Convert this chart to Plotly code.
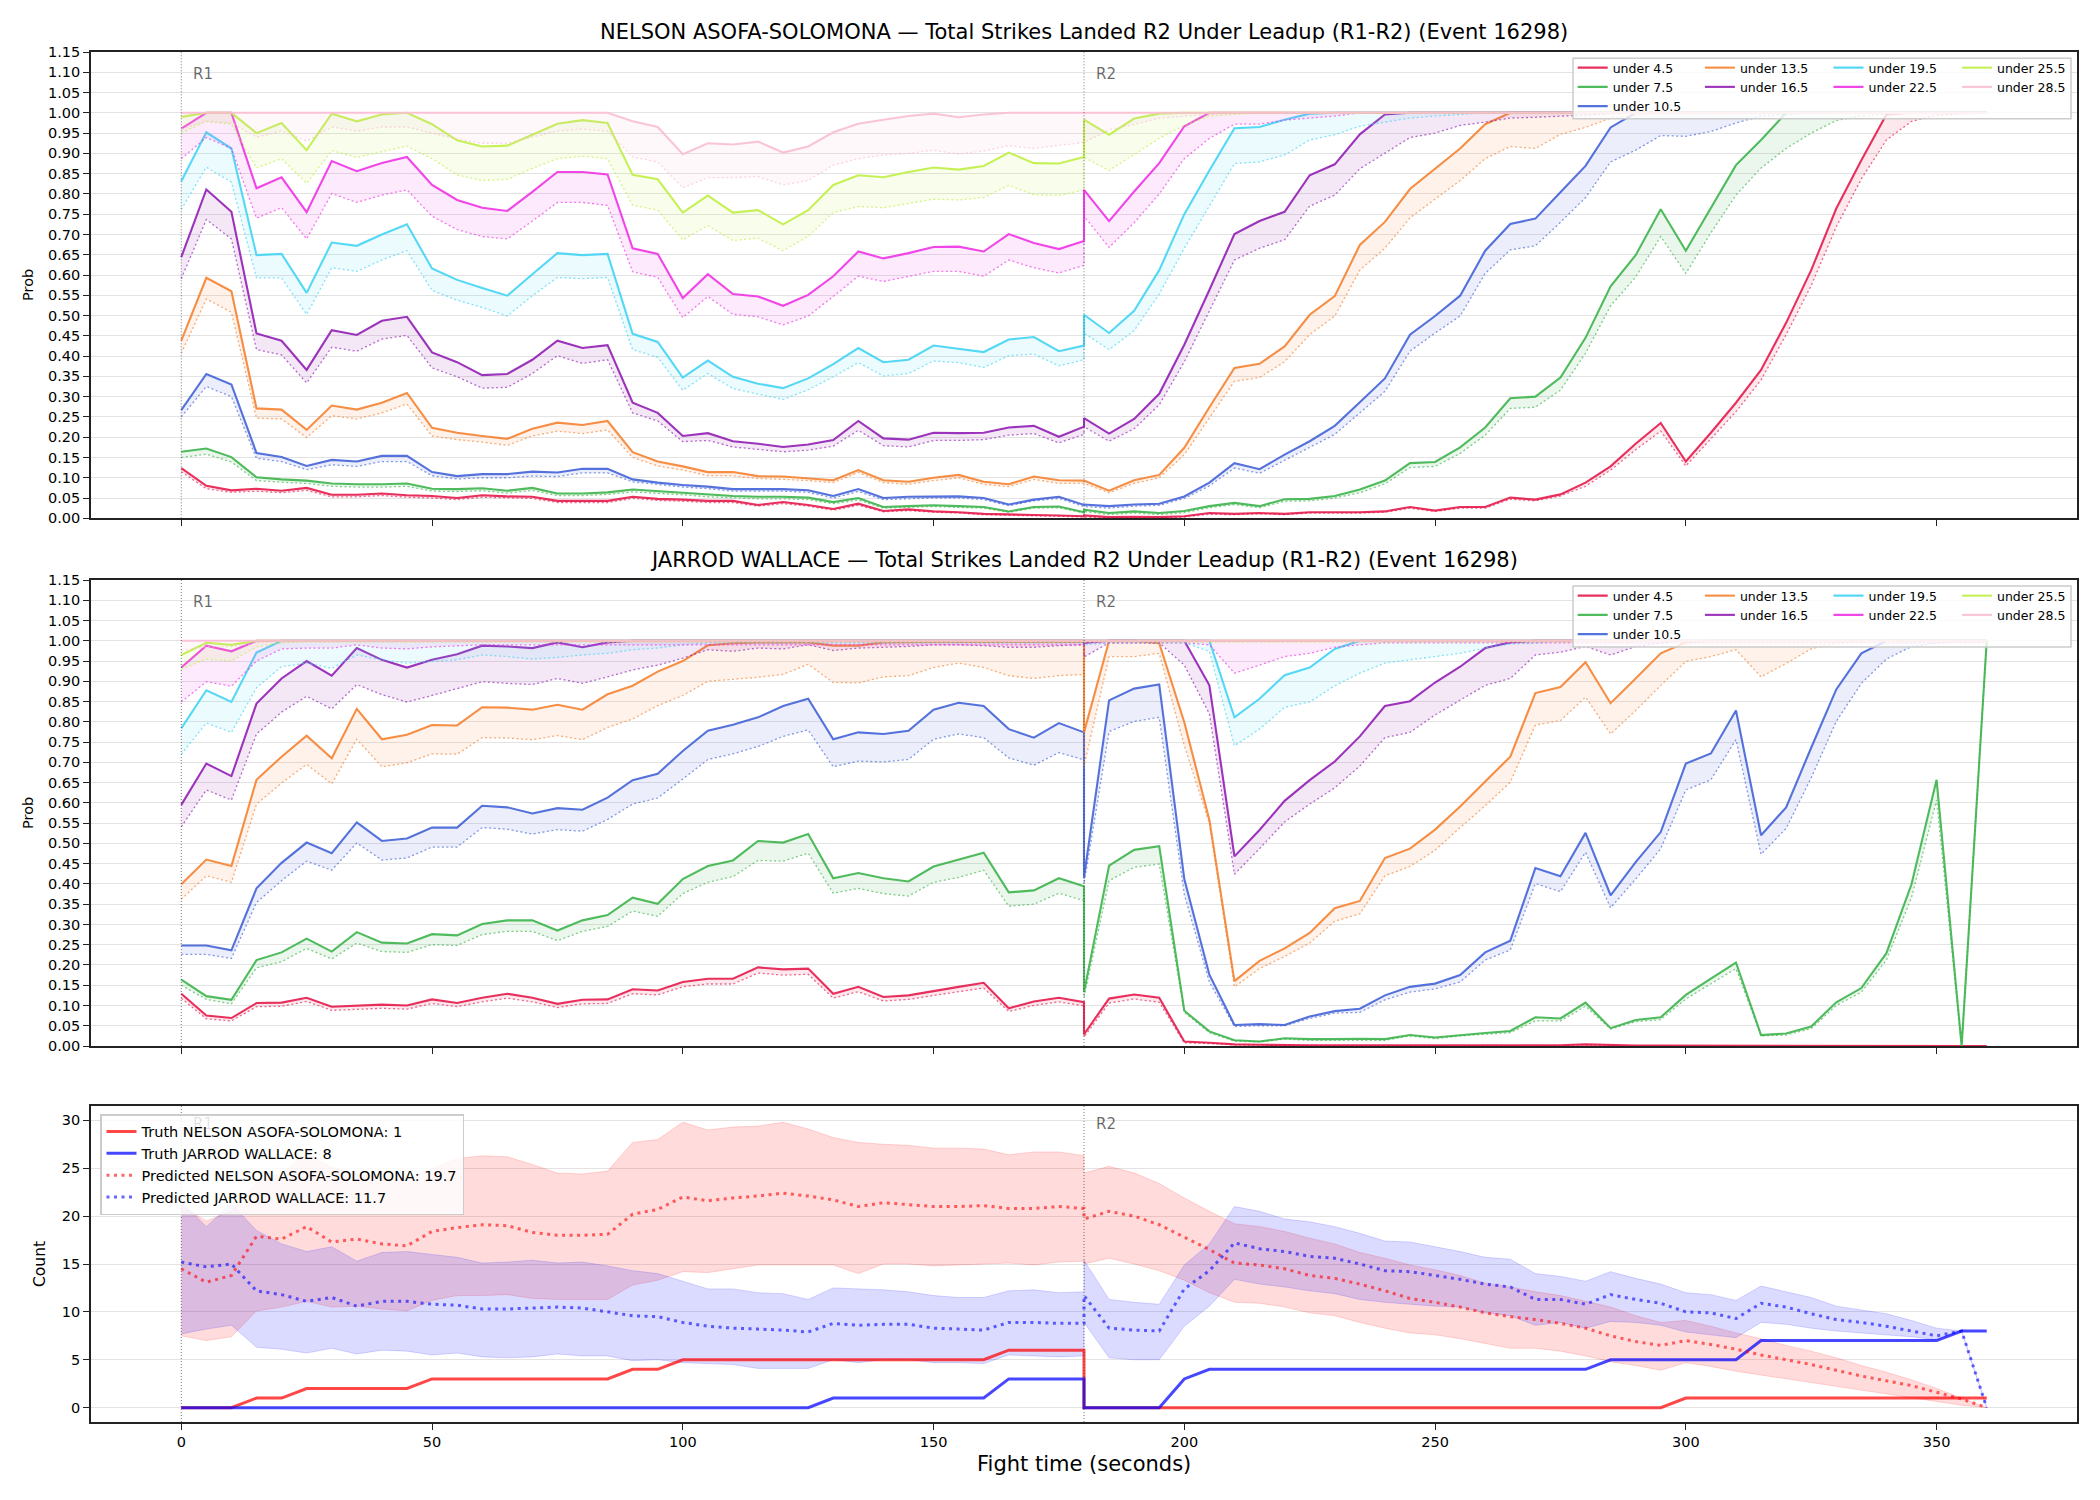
import plotly.graph_objects as go

# ---------------- data ----------------
TIME_R1 = [0, 5, 10, 15, 20, 25, 30, 35, 40, 45, 50, 55, 60, 65, 70, 75, 80, 85, 90, 95,
           100, 105, 110, 115, 120, 125, 130, 135, 140, 145, 150, 155, 160, 165, 170, 175, 180]
TIME_R2 = [180, 185, 190, 195, 200, 205, 210, 215, 220, 225, 230, 235, 240, 245, 250, 255, 260, 265, 270, 275,
           280, 285, 290, 295, 300, 305, 310, 315, 320, 325, 330, 335, 340, 345, 350, 355, 360]
TIME = TIME_R1 + TIME_R2

FIGHTER_A = "NELSON ASOFA-SOLOMONA"
FIGHTER_B = "JARROD WALLACE"
TITLE_SUFFIX = " — Total Strikes Landed R2 Under Leadup (R1-R2) (Event 16298)"
THRESHOLDS = ["under 4.5", "under 7.5", "under 10.5", "under 13.5", "under 16.5",
              "under 19.5", "under 22.5", "under 25.5", "under 28.5"]
COLORS = ["#e6194b", "#3cb44b", "#4363d8", "#f58231", "#911eb4",
          "#42d4f4", "#f032e6", "#bfef45", "#fabed4"]
ROUND_MARKS = [0, 180]
ROUND_NAMES = ["R1", "R2"]

# ---- NELSON ASOFA-SOLOMONA: probability (solid) and lower band (dotted) ----
a_u45 = [0.124, 0.080, 0.069, 0.073, 0.068, 0.075, 0.058, 0.058, 0.061, 0.057, 0.055, 0.050, 0.057, 0.054, 0.053, 0.043, 0.043, 0.043, 0.053, 0.048,
         0.046, 0.043, 0.043, 0.033, 0.040, 0.033, 0.023, 0.036, 0.018, 0.022, 0.017, 0.015, 0.011, 0.009, 0.008, 0.007, 0.005,
         0.007, 0.003, 0.004, 0.003, 0.005, 0.013, 0.011, 0.013, 0.011, 0.015, 0.015, 0.015, 0.017, 0.028, 0.019, 0.028, 0.028, 0.051, 0.046, 0.059,
         0.088, 0.128, 0.184, 0.235, 0.140, 0.211, 0.285, 0.366, 0.482, 0.612, 0.764, 0.883, 0.996, 1.0, 1.0, 1.0, 1.0]
a_u45_lo = [0.115, 0.073, 0.064, 0.067, 0.063, 0.069, 0.053, 0.053, 0.056, 0.052, 0.050, 0.046, 0.052, 0.050, 0.049, 0.039, 0.039, 0.039, 0.049, 0.044,
            0.042, 0.039, 0.039, 0.030, 0.036, 0.030, 0.020, 0.032, 0.016, 0.019, 0.015, 0.013, 0.009, 0.007, 0.006, 0.005, 0.003,
            0.004, 0.001, 0.002, 0.001, 0.003, 0.010, 0.009, 0.011, 0.009, 0.013, 0.013, 0.013, 0.015, 0.025, 0.017, 0.025, 0.025, 0.047, 0.043, 0.055,
            0.079, 0.119, 0.169, 0.215, 0.129, 0.196, 0.263, 0.341, 0.453, 0.574, 0.719, 0.837, 0.933, 0.979, 0.994, 0.997, 1.0]
a_u75 = [0.164, 0.172, 0.151, 0.101, 0.096, 0.093, 0.086, 0.084, 0.084, 0.086, 0.073, 0.072, 0.074, 0.068, 0.075, 0.061, 0.061, 0.064, 0.071, 0.067,
         0.063, 0.058, 0.055, 0.053, 0.053, 0.051, 0.040, 0.050, 0.028, 0.030, 0.032, 0.030, 0.028, 0.017, 0.028, 0.029, 0.015,
         0.021, 0.013, 0.017, 0.013, 0.018, 0.030, 0.038, 0.030, 0.047, 0.048, 0.055, 0.071, 0.093, 0.136, 0.139, 0.175, 0.224, 0.296, 0.300, 0.347,
         0.445, 0.572, 0.649, 0.762, 0.660, 0.766, 0.871, 0.933, 1.0, 1.0, 1.0, 1.0, 1.0, 1.0, 1.0, 1.0, 1.0]
a_u75_lo = [0.150, 0.158, 0.139, 0.093, 0.089, 0.086, 0.079, 0.077, 0.077, 0.079, 0.067, 0.066, 0.068, 0.062, 0.069, 0.056, 0.056, 0.059, 0.065, 0.062,
            0.058, 0.053, 0.050, 0.048, 0.048, 0.046, 0.036, 0.045, 0.025, 0.027, 0.029, 0.027, 0.025, 0.015, 0.025, 0.026, 0.013,
            0.017, 0.009, 0.013, 0.009, 0.014, 0.026, 0.034, 0.026, 0.042, 0.043, 0.050, 0.063, 0.085, 0.125, 0.128, 0.160, 0.205, 0.271, 0.274, 0.316,
            0.407, 0.524, 0.595, 0.695, 0.604, 0.704, 0.797, 0.864, 0.912, 0.950, 0.981, 0.992, 0.997, 1.0, 1.0, 1.0, 1.0]
a_u105 = [0.267, 0.356, 0.330, 0.161, 0.151, 0.129, 0.144, 0.140, 0.154, 0.154, 0.114, 0.104, 0.109, 0.109, 0.115, 0.113, 0.122, 0.122, 0.096, 0.088,
          0.082, 0.078, 0.072, 0.072, 0.072, 0.069, 0.055, 0.072, 0.050, 0.053, 0.054, 0.054, 0.050, 0.034, 0.046, 0.053, 0.033,
          0.034, 0.030, 0.034, 0.036, 0.054, 0.088, 0.136, 0.121, 0.157, 0.190, 0.228, 0.286, 0.345, 0.453, 0.499, 0.549, 0.660, 0.726, 0.739, 0.804,
          0.869, 0.964, 1.0, 1.0, 1.0, 1.0, 1.0, 1.0, 1.0, 1.0, 1.0, 1.0, 1.0, 1.0, 1.0, 1.0, 1.0]
a_u105_lo = [0.250, 0.325, 0.300, 0.148, 0.140, 0.120, 0.132, 0.128, 0.140, 0.140, 0.105, 0.097, 0.100, 0.100, 0.104, 0.103, 0.112, 0.112, 0.090, 0.083,
             0.077, 0.073, 0.067, 0.067, 0.067, 0.064, 0.050, 0.066, 0.046, 0.048, 0.050, 0.050, 0.046, 0.031, 0.043, 0.049, 0.030,
             0.029, 0.025, 0.030, 0.032, 0.049, 0.080, 0.124, 0.111, 0.143, 0.174, 0.207, 0.260, 0.313, 0.412, 0.457, 0.499, 0.604, 0.662, 0.672, 0.730,
             0.791, 0.879, 0.908, 0.944, 0.942, 0.954, 0.975, 0.992, 0.996, 1.0, 1.0, 1.0, 1.0, 1.0, 1.0, 1.0, 1.0]
a_u135 = [0.438, 0.593, 0.560, 0.271, 0.268, 0.218, 0.278, 0.268, 0.285, 0.309, 0.223, 0.211, 0.203, 0.196, 0.221, 0.236, 0.230, 0.240, 0.163, 0.140,
          0.128, 0.114, 0.114, 0.104, 0.103, 0.098, 0.094, 0.119, 0.094, 0.090, 0.100, 0.107, 0.090, 0.084, 0.103, 0.094, 0.093,
          0.093, 0.068, 0.094, 0.107, 0.174, 0.274, 0.371, 0.381, 0.424, 0.502, 0.548, 0.674, 0.731, 0.812, 0.862, 0.912, 0.972, 1.0, 1.0, 1.0,
          1.0, 1.0, 1.0, 1.0, 1.0, 1.0, 1.0, 1.0, 1.0, 1.0, 1.0, 1.0, 1.0, 1.0, 1.0, 1.0, 1.0]
a_u135_lo = [0.407, 0.541, 0.508, 0.247, 0.245, 0.199, 0.253, 0.245, 0.260, 0.282, 0.203, 0.194, 0.188, 0.180, 0.203, 0.215, 0.209, 0.218, 0.150, 0.129,
             0.119, 0.105, 0.105, 0.098, 0.096, 0.093, 0.088, 0.113, 0.088, 0.084, 0.093, 0.100, 0.084, 0.078, 0.096, 0.086, 0.086,
             0.086, 0.063, 0.086, 0.100, 0.157, 0.249, 0.338, 0.347, 0.386, 0.453, 0.499, 0.612, 0.666, 0.741, 0.787, 0.833, 0.887, 0.917, 0.912, 0.947,
             0.964, 0.987, 0.992, 1.0, 1.0, 1.0, 1.0, 1.0, 1.0, 1.0, 1.0, 1.0, 1.0, 1.0, 1.0, 1.0, 1.0]
a_u165 = [0.644, 0.811, 0.756, 0.456, 0.438, 0.366, 0.464, 0.452, 0.487, 0.497, 0.409, 0.385, 0.353, 0.356, 0.391, 0.438, 0.420, 0.427, 0.285, 0.260,
          0.203, 0.210, 0.190, 0.184, 0.176, 0.182, 0.193, 0.240, 0.197, 0.194, 0.211, 0.210, 0.211, 0.224, 0.228, 0.201, 0.226,
          0.247, 0.209, 0.245, 0.307, 0.428, 0.563, 0.701, 0.733, 0.756, 0.846, 0.873, 0.947, 0.996, 1.0, 1.0, 1.0, 1.0, 1.0, 1.0, 1.0,
          1.0, 1.0, 1.0, 1.0, 1.0, 1.0, 1.0, 1.0, 1.0, 1.0, 1.0, 1.0, 1.0, 1.0, 1.0, 1.0, 1.0]
a_u165_lo = [0.591, 0.737, 0.689, 0.416, 0.403, 0.334, 0.422, 0.412, 0.442, 0.451, 0.371, 0.349, 0.321, 0.323, 0.357, 0.401, 0.382, 0.391, 0.260, 0.240,
             0.189, 0.192, 0.176, 0.170, 0.164, 0.168, 0.178, 0.217, 0.179, 0.176, 0.192, 0.192, 0.194, 0.205, 0.209, 0.186, 0.207,
             0.226, 0.190, 0.221, 0.280, 0.386, 0.512, 0.637, 0.666, 0.687, 0.770, 0.797, 0.862, 0.900, 0.939, 0.950, 0.969, 0.977, 0.987, 0.989, 0.992,
             0.995, 0.997, 1.0, 1.0, 1.0, 1.0, 1.0, 1.0, 1.0, 1.0, 1.0, 1.0, 1.0, 1.0, 1.0, 1.0, 1.0]
a_u195 = [0.831, 0.952, 0.912, 0.649, 0.652, 0.556, 0.680, 0.672, 0.700, 0.725, 0.616, 0.588, 0.568, 0.549, 0.602, 0.654, 0.649, 0.652, 0.455, 0.435,
          0.347, 0.389, 0.349, 0.332, 0.321, 0.345, 0.380, 0.420, 0.385, 0.391, 0.426, 0.418, 0.410, 0.441, 0.447, 0.412, 0.426,
          0.502, 0.457, 0.512, 0.612, 0.750, 0.858, 0.962, 0.965, 0.983, 0.998, 1.0, 1.0, 1.0, 1.0, 1.0, 1.0, 1.0, 1.0, 1.0, 1.0,
          1.0, 1.0, 1.0, 1.0, 1.0, 1.0, 1.0, 1.0, 1.0, 1.0, 1.0, 1.0, 1.0, 1.0, 1.0, 1.0, 1.0]
a_u195_lo = [0.762, 0.866, 0.829, 0.593, 0.593, 0.503, 0.618, 0.609, 0.637, 0.660, 0.562, 0.538, 0.520, 0.499, 0.549, 0.594, 0.591, 0.594, 0.416, 0.397,
             0.316, 0.357, 0.320, 0.306, 0.293, 0.317, 0.349, 0.384, 0.351, 0.357, 0.388, 0.384, 0.372, 0.401, 0.405, 0.376, 0.391,
             0.457, 0.416, 0.463, 0.553, 0.666, 0.770, 0.875, 0.879, 0.896, 0.933, 0.946, 0.967, 0.977, 0.987, 0.992, 0.996, 1.0, 1.0, 1.0, 1.0,
             1.0, 1.0, 1.0, 1.0, 1.0, 1.0, 1.0, 1.0, 1.0, 1.0, 1.0, 1.0, 1.0, 1.0, 1.0, 1.0, 1.0]
a_u225 = [0.961, 1.0, 1.0, 0.814, 0.841, 0.755, 0.881, 0.856, 0.876, 0.891, 0.822, 0.785, 0.766, 0.758, 0.805, 0.854, 0.854, 0.848, 0.666, 0.652,
          0.543, 0.602, 0.553, 0.547, 0.524, 0.551, 0.597, 0.658, 0.641, 0.654, 0.669, 0.670, 0.658, 0.701, 0.679, 0.664, 0.684,
          0.810, 0.733, 0.806, 0.876, 0.967, 1.0, 1.0, 1.0, 1.0, 1.0, 1.0, 1.0, 1.0, 1.0, 1.0, 1.0, 1.0, 1.0, 1.0, 1.0,
          1.0, 1.0, 1.0, 1.0, 1.0, 1.0, 1.0, 1.0, 1.0, 1.0, 1.0, 1.0, 1.0, 1.0, 1.0, 1.0, 1.0]
a_u225_lo = [0.887, 0.939, 0.912, 0.740, 0.766, 0.689, 0.801, 0.779, 0.797, 0.810, 0.745, 0.712, 0.695, 0.689, 0.733, 0.779, 0.779, 0.772, 0.608, 0.594,
             0.495, 0.547, 0.503, 0.497, 0.477, 0.499, 0.547, 0.597, 0.584, 0.597, 0.609, 0.609, 0.597, 0.637, 0.618, 0.605, 0.624,
             0.745, 0.668, 0.729, 0.800, 0.887, 0.937, 0.972, 0.972, 0.982, 0.987, 0.992, 1.0, 1.0, 1.0, 1.0, 1.0, 1.0, 1.0, 1.0, 1.0,
             1.0, 1.0, 1.0, 1.0, 1.0, 1.0, 1.0, 1.0, 1.0, 1.0, 1.0, 1.0, 1.0, 1.0, 1.0, 1.0, 1.0]
a_u255 = [0.990, 1.0, 1.0, 0.950, 0.975, 0.908, 0.998, 0.979, 0.996, 1.0, 0.972, 0.932, 0.917, 0.919, 0.946, 0.973, 0.982, 0.975, 0.847, 0.836,
          0.754, 0.796, 0.754, 0.760, 0.725, 0.760, 0.822, 0.846, 0.841, 0.854, 0.865, 0.860, 0.869, 0.902, 0.876, 0.875, 0.891,
          0.983, 0.946, 0.986, 0.998, 1.0, 1.0, 1.0, 1.0, 1.0, 1.0, 1.0, 1.0, 1.0, 1.0, 1.0, 1.0, 1.0, 1.0, 1.0, 1.0,
          1.0, 1.0, 1.0, 1.0, 1.0, 1.0, 1.0, 1.0, 1.0, 1.0, 1.0, 1.0, 1.0, 1.0, 1.0, 1.0, 1.0]
a_u255_lo = [0.950, 0.979, 0.972, 0.864, 0.887, 0.826, 0.907, 0.890, 0.904, 0.918, 0.887, 0.847, 0.833, 0.836, 0.863, 0.887, 0.893, 0.887, 0.772, 0.760,
             0.687, 0.722, 0.685, 0.691, 0.660, 0.695, 0.754, 0.769, 0.766, 0.777, 0.787, 0.785, 0.791, 0.821, 0.798, 0.796, 0.810,
             0.890, 0.858, 0.897, 0.937, 0.969, 0.992, 0.996, 1.0, 1.0, 1.0, 1.0, 1.0, 1.0, 1.0, 1.0, 1.0, 1.0, 1.0, 1.0, 1.0,
             1.0, 1.0, 1.0, 1.0, 1.0, 1.0, 1.0, 1.0, 1.0, 1.0, 1.0, 1.0, 1.0, 1.0, 1.0, 1.0, 1.0]
a_u285 = [1.0, 1.0, 1.0, 1.0, 1.0, 1.0, 1.0, 1.0, 1.0, 1.0, 1.0, 1.0, 1.0, 1.0, 1.0, 1.0, 1.0, 1.0, 0.979, 0.965,
          0.898, 0.925, 0.922, 0.929, 0.902, 0.917, 0.952, 0.973, 0.983, 0.992, 0.998, 0.989, 0.996, 1.0, 1.0, 1.0, 1.0,
          1.0, 1.0, 1.0, 1.0, 1.0, 1.0, 1.0, 1.0, 1.0, 1.0, 1.0, 1.0, 1.0, 1.0, 1.0, 1.0, 1.0, 1.0, 1.0, 1.0,
          1.0, 1.0, 1.0, 1.0, 1.0, 1.0, 1.0, 1.0, 1.0, 1.0, 1.0, 1.0, 1.0, 1.0, 1.0, 1.0, 1.0]
a_u285_lo = [0.960, 0.980, 0.975, 0.940, 0.955, 0.930, 0.965, 0.955, 0.965, 0.965, 0.950, 0.935, 0.925, 0.925, 0.940, 0.955, 0.960, 0.955, 0.891, 0.879,
             0.815, 0.840, 0.840, 0.843, 0.822, 0.833, 0.871, 0.887, 0.896, 0.900, 0.908, 0.898, 0.906, 0.919, 0.912, 0.919, 0.927,
             0.927, 0.958, 0.971, 0.987, 0.992, 0.996, 1.0, 1.0, 1.0, 1.0, 1.0, 1.0, 1.0, 1.0, 1.0, 1.0, 1.0, 1.0, 1.0, 1.0,
             1.0, 1.0, 1.0, 1.0, 1.0, 1.0, 1.0, 1.0, 1.0, 1.0, 1.0, 1.0, 1.0, 1.0, 1.0, 1.0, 1.0]

# ---- JARROD WALLACE ----
b_u45 = [0.129, 0.075, 0.069, 0.106, 0.107, 0.119, 0.097, 0.100, 0.102, 0.100, 0.115, 0.106, 0.119, 0.129, 0.119, 0.104, 0.114, 0.115, 0.140, 0.137,
         0.158, 0.166, 0.166, 0.194, 0.189, 0.191, 0.129, 0.146, 0.121, 0.125, 0.136, 0.146, 0.156, 0.093, 0.110, 0.119, 0.108,
         0.029, 0.117, 0.127, 0.119, 0.011, 0.008, 0.004, 0.003, 0.002, 0.002, 0.002, 0.002, 0.002, 0.003, 0.002, 0.002, 0.002, 0.003, 0.002, 0.002,
         0.004, 0.002, 0.001, 0.001, 0.001, 0.001, 0.001, 0.001, 0.001, 0.001, 0.001, 0.001, 0.001, 0.001, 0.001, 0.001, 0.0]
b_u45_lo = [0.118, 0.067, 0.062, 0.097, 0.098, 0.110, 0.088, 0.091, 0.093, 0.091, 0.105, 0.097, 0.109, 0.118, 0.109, 0.095, 0.104, 0.105, 0.129, 0.126,
            0.146, 0.153, 0.153, 0.180, 0.175, 0.177, 0.118, 0.134, 0.111, 0.115, 0.125, 0.134, 0.143, 0.085, 0.100, 0.109, 0.099,
            0.022, 0.106, 0.116, 0.108, 0.008, 0.006, 0.003, 0.002, 0.001, 0.001, 0.001, 0.001, 0.001, 0.002, 0.001, 0.001, 0.001, 0.002, 0.001, 0.001,
            0.003, 0.001, 0.0, 0.0, 0.0, 0.0, 0.0, 0.0, 0.0, 0.0, 0.0, 0.0, 0.0, 0.0, 0.0, 0.0, 0.0]
b_u75 = [0.164, 0.123, 0.114, 0.212, 0.231, 0.265, 0.233, 0.281, 0.255, 0.253, 0.276, 0.273, 0.301, 0.310, 0.310, 0.285, 0.310, 0.323, 0.366, 0.351,
         0.412, 0.444, 0.458, 0.506, 0.502, 0.523, 0.414, 0.427, 0.414, 0.406, 0.443, 0.460, 0.477, 0.379, 0.384, 0.414, 0.394,
         0.133, 0.445, 0.484, 0.493, 0.087, 0.036, 0.014, 0.011, 0.019, 0.017, 0.017, 0.018, 0.017, 0.027, 0.021, 0.027, 0.032, 0.037, 0.071, 0.068,
         0.107, 0.044, 0.064, 0.071, 0.126, 0.166, 0.206, 0.027, 0.031, 0.048, 0.108, 0.143, 0.229, 0.399, 0.657, 0.0, 1.0]
b_u75_lo = [0.150, 0.115, 0.104, 0.193, 0.208, 0.241, 0.215, 0.254, 0.233, 0.231, 0.250, 0.248, 0.275, 0.283, 0.283, 0.260, 0.283, 0.295, 0.333, 0.320,
            0.376, 0.404, 0.418, 0.458, 0.456, 0.476, 0.377, 0.389, 0.376, 0.370, 0.404, 0.416, 0.434, 0.345, 0.350, 0.377, 0.359,
            0.120, 0.408, 0.441, 0.449, 0.083, 0.033, 0.012, 0.010, 0.017, 0.014, 0.014, 0.015, 0.014, 0.025, 0.018, 0.025, 0.029, 0.033, 0.062, 0.062,
            0.098, 0.042, 0.060, 0.065, 0.116, 0.154, 0.191, 0.025, 0.027, 0.043, 0.100, 0.133, 0.212, 0.366, 0.607, 0.0, 1.0]
b_u105 = [0.248, 0.248, 0.236, 0.389, 0.452, 0.502, 0.476, 0.552, 0.506, 0.512, 0.539, 0.539, 0.593, 0.589, 0.574, 0.587, 0.583, 0.613, 0.656, 0.672,
          0.728, 0.778, 0.793, 0.811, 0.839, 0.857, 0.757, 0.774, 0.770, 0.778, 0.830, 0.847, 0.839, 0.782, 0.761, 0.797, 0.774,
          0.416, 0.853, 0.882, 0.892, 0.412, 0.176, 0.052, 0.054, 0.052, 0.073, 0.086, 0.092, 0.125, 0.146, 0.154, 0.175, 0.231, 0.260, 0.439, 0.419,
          0.526, 0.372, 0.454, 0.528, 0.697, 0.722, 0.828, 0.520, 0.589, 0.736, 0.880, 0.969, 1.0, 1.0, 1.0, 1.0, 1.0]
b_u105_lo = [0.226, 0.226, 0.216, 0.354, 0.408, 0.456, 0.434, 0.501, 0.459, 0.464, 0.491, 0.491, 0.539, 0.535, 0.523, 0.534, 0.530, 0.559, 0.597, 0.612,
             0.659, 0.707, 0.721, 0.739, 0.764, 0.780, 0.689, 0.703, 0.701, 0.707, 0.757, 0.770, 0.761, 0.711, 0.693, 0.724, 0.706,
             0.400, 0.776, 0.801, 0.811, 0.374, 0.158, 0.048, 0.050, 0.050, 0.068, 0.081, 0.083, 0.114, 0.133, 0.141, 0.158, 0.212, 0.237, 0.401, 0.381,
             0.478, 0.341, 0.412, 0.487, 0.632, 0.657, 0.756, 0.473, 0.537, 0.662, 0.801, 0.895, 0.955, 0.986, 0.994, 1.0, 1.0]
b_u135 = [0.399, 0.460, 0.444, 0.657, 0.714, 0.766, 0.710, 0.832, 0.757, 0.768, 0.792, 0.791, 0.836, 0.835, 0.830, 0.842, 0.830, 0.868, 0.889, 0.924,
          0.950, 0.989, 0.994, 0.996, 0.996, 0.996, 0.988, 0.988, 0.996, 0.997, 0.997, 0.997, 0.997, 0.997, 0.997, 0.997, 0.997,
          0.774, 1.0, 1.0, 0.994, 0.799, 0.558, 0.160, 0.210, 0.241, 0.279, 0.340, 0.358, 0.464, 0.487, 0.534, 0.591, 0.653, 0.714, 0.871, 0.886,
          0.947, 0.846, 0.907, 0.969, 0.996, 1.0, 1.0, 1.0, 1.0, 1.0, 1.0, 1.0, 1.0, 1.0, 1.0, 1.0, 1.0]
b_u135_lo = [0.362, 0.420, 0.404, 0.597, 0.649, 0.695, 0.647, 0.757, 0.689, 0.699, 0.721, 0.720, 0.761, 0.760, 0.756, 0.766, 0.756, 0.786, 0.807, 0.840,
             0.865, 0.900, 0.905, 0.910, 0.917, 0.942, 0.897, 0.896, 0.911, 0.914, 0.934, 0.945, 0.934, 0.914, 0.907, 0.914, 0.917,
             0.691, 0.961, 0.961, 0.969, 0.741, 0.549, 0.146, 0.191, 0.221, 0.254, 0.308, 0.326, 0.420, 0.443, 0.483, 0.539, 0.593, 0.651, 0.792, 0.803,
             0.861, 0.770, 0.828, 0.890, 0.949, 0.961, 0.978, 0.911, 0.944, 0.980, 0.994, 1.0, 1.0, 1.0, 1.0, 1.0, 1.0]
b_u165 = [0.595, 0.697, 0.666, 0.845, 0.907, 0.950, 0.914, 0.982, 0.953, 0.934, 0.953, 0.967, 0.988, 0.986, 0.982, 0.996, 0.984, 0.996, 1.0, 1.0,
          1.0, 1.0, 1.0, 1.0, 1.0, 1.0, 1.0, 1.0, 1.0, 1.0, 1.0, 1.0, 1.0, 1.0, 1.0, 1.0, 1.0,
          0.995, 1.0, 1.0, 1.0, 1.0, 0.890, 0.468, 0.533, 0.605, 0.656, 0.702, 0.764, 0.839, 0.851, 0.897, 0.936, 0.982, 0.996, 1.0, 1.0,
          1.0, 1.0, 1.0, 1.0, 1.0, 1.0, 1.0, 1.0, 1.0, 1.0, 1.0, 1.0, 1.0, 1.0, 1.0, 1.0, 1.0]
b_u165_lo = [0.541, 0.632, 0.607, 0.770, 0.824, 0.863, 0.832, 0.892, 0.867, 0.849, 0.865, 0.882, 0.899, 0.895, 0.892, 0.907, 0.895, 0.911, 0.928, 0.940,
             0.957, 0.978, 0.974, 0.982, 0.980, 0.990, 0.976, 0.982, 0.984, 0.986, 0.990, 0.990, 0.988, 0.984, 0.984, 0.988, 0.990,
             0.960, 0.995, 0.995, 0.995, 0.940, 0.820, 0.424, 0.487, 0.553, 0.597, 0.637, 0.691, 0.761, 0.774, 0.817, 0.853, 0.890, 0.907, 0.965, 0.972,
             0.986, 0.965, 0.986, 0.994, 1.0, 1.0, 1.0, 1.0, 1.0, 1.0, 1.0, 1.0, 1.0, 1.0, 1.0, 1.0, 1.0]
b_u195 = [0.784, 0.878, 0.849, 0.971, 1.0, 1.0, 1.0, 1.0, 1.0, 1.0, 1.0, 1.0, 1.0, 1.0, 1.0, 1.0, 1.0, 1.0, 1.0, 1.0,
          1.0, 1.0, 1.0, 1.0, 1.0, 1.0, 1.0, 1.0, 1.0, 1.0, 1.0, 1.0, 1.0, 1.0, 1.0, 1.0, 1.0,
          1.0, 1.0, 1.0, 1.0, 1.0, 1.0, 0.811, 0.857, 0.915, 0.934, 0.980, 1.0, 1.0, 1.0, 1.0, 1.0, 1.0, 1.0, 1.0, 1.0,
          1.0, 1.0, 1.0, 1.0, 1.0, 1.0, 1.0, 1.0, 1.0, 1.0, 1.0, 1.0, 1.0, 1.0, 1.0, 1.0, 1.0]
b_u195_lo = [0.720, 0.797, 0.774, 0.884, 0.936, 0.945, 0.932, 0.965, 0.953, 0.945, 0.949, 0.953, 0.965, 0.961, 0.955, 0.959, 0.965, 0.969, 0.978, 0.982,
             0.990, 0.995, 0.995, 0.995, 0.995, 0.995, 0.995, 0.995, 0.995, 0.995, 0.995, 0.995, 0.995, 0.995, 0.995, 0.995, 0.995,
             0.990, 0.995, 0.995, 0.995, 0.995, 0.974, 0.741, 0.782, 0.836, 0.849, 0.889, 0.920, 0.945, 0.953, 0.961, 0.969, 0.982, 0.992, 0.994, 1.0,
             1.0, 1.0, 1.0, 1.0, 1.0, 1.0, 1.0, 1.0, 1.0, 1.0, 1.0, 1.0, 1.0, 1.0, 1.0, 1.0, 1.0]
b_u225 = [0.934, 0.988, 0.974, 1.0, 1.0, 1.0, 1.0, 1.0, 1.0, 1.0, 1.0, 1.0, 1.0, 1.0, 1.0, 1.0, 1.0, 1.0, 1.0, 1.0,
          1.0, 1.0, 1.0, 1.0, 1.0, 1.0, 1.0, 1.0, 1.0, 1.0, 1.0, 1.0, 1.0, 1.0, 1.0, 1.0, 1.0,
          1.0, 1.0, 1.0, 1.0, 1.0, 1.0, 1.0, 1.0, 1.0, 1.0, 1.0, 1.0, 1.0, 1.0, 1.0, 1.0, 1.0, 1.0, 1.0, 1.0,
          1.0, 1.0, 1.0, 1.0, 1.0, 1.0, 1.0, 1.0, 1.0, 1.0, 1.0, 1.0, 1.0, 1.0, 1.0, 1.0, 1.0]
b_u225_lo = [0.849, 0.899, 0.888, 0.950, 0.980, 0.982, 0.982, 0.990, 0.982, 0.980, 0.985, 0.988, 0.990, 0.990, 0.990, 0.990, 0.990, 0.990, 0.990, 0.990,
             0.990, 0.990, 0.990, 0.990, 0.990, 0.990, 0.990, 0.990, 0.990, 0.990, 0.990, 0.990, 0.990, 0.990, 0.990, 0.990, 0.990,
             0.995, 0.995, 0.995, 0.995, 0.995, 0.990, 0.920, 0.940, 0.961, 0.969, 0.984, 0.990, 0.995, 0.995, 0.995, 0.995, 0.995, 0.995, 0.995, 0.995,
             0.995, 0.995, 0.995, 0.995, 0.995, 0.995, 0.995, 0.995, 0.995, 0.995, 0.995, 0.995, 0.995, 0.995, 0.995, 0.995, 0.995]
b_u255 = [0.965, 0.995, 0.990, 1.0, 1.0, 1.0, 1.0, 1.0, 1.0, 1.0, 1.0, 1.0, 1.0, 1.0, 1.0, 1.0, 1.0, 1.0, 1.0, 1.0,
          1.0, 1.0, 1.0, 1.0, 1.0, 1.0, 1.0, 1.0, 1.0, 1.0, 1.0, 1.0, 1.0, 1.0, 1.0, 1.0, 1.0,
          1.0, 1.0, 1.0, 1.0, 1.0, 1.0, 1.0, 1.0, 1.0, 1.0, 1.0, 1.0, 1.0, 1.0, 1.0, 1.0, 1.0, 1.0, 1.0, 1.0,
          1.0, 1.0, 1.0, 1.0, 1.0, 1.0, 1.0, 1.0, 1.0, 1.0, 1.0, 1.0, 1.0, 1.0, 1.0, 1.0, 1.0]
b_u255_lo = [0.930, 0.955, 0.950, 0.985, 0.995, 0.997, 0.997, 0.997, 0.997, 0.997, 0.997, 0.997, 0.997, 0.997, 0.997, 0.997, 0.997, 0.997, 0.997, 0.997,
             0.997, 0.997, 0.997, 0.997, 0.997, 0.997, 0.997, 0.997, 0.997, 0.997, 0.997, 0.997, 0.997, 0.997, 0.997, 0.997, 0.997,
             0.997, 0.997, 0.997, 0.997, 0.997, 0.997, 0.997, 0.997, 0.997, 0.997, 0.997, 0.997, 0.997, 0.997, 0.997, 0.997, 0.997, 0.997, 0.997, 0.997,
             0.997, 0.997, 0.997, 0.997, 0.997, 0.997, 0.997, 0.997, 0.997, 0.997, 0.997, 0.997, 0.997, 0.997, 0.997, 0.997, 0.997]
b_u285 = [1.0, 1.0, 1.0, 1.0, 1.0, 1.0, 1.0, 1.0, 1.0, 1.0, 1.0, 1.0, 1.0, 1.0, 1.0, 1.0, 1.0, 1.0, 1.0, 1.0,
          1.0, 1.0, 1.0, 1.0, 1.0, 1.0, 1.0, 1.0, 1.0, 1.0, 1.0, 1.0, 1.0, 1.0, 1.0, 1.0, 1.0,
          1.0, 1.0, 1.0, 1.0, 1.0, 1.0, 1.0, 1.0, 1.0, 1.0, 1.0, 1.0, 1.0, 1.0, 1.0, 1.0, 1.0, 1.0, 1.0, 1.0,
          1.0, 1.0, 1.0, 1.0, 1.0, 1.0, 1.0, 1.0, 1.0, 1.0, 1.0, 1.0, 1.0, 1.0, 1.0, 1.0, 1.0]
b_u285_lo = [0.975, 0.985, 0.985, 0.995, 0.998, 0.998, 0.998, 0.998, 0.998, 0.998, 0.998, 0.998, 0.998, 0.998, 0.998, 0.998, 0.998, 0.998, 0.998, 0.998,
             0.998, 0.998, 0.998, 0.998, 0.998, 0.998, 0.998, 0.998, 0.998, 0.998, 0.998, 0.998, 0.998, 0.998, 0.998, 0.998, 0.998,
             0.998, 0.998, 0.998, 0.998, 0.998, 0.998, 0.998, 0.998, 0.998, 0.998, 0.998, 0.998, 0.998, 0.998, 0.998, 0.998, 0.998, 0.998, 0.998, 0.998,
             0.998, 0.998, 0.998, 0.998, 0.998, 0.998, 0.998, 0.998, 0.998, 0.998, 0.998, 0.998, 0.998, 0.998, 0.998, 0.998, 0.998]

# ---- counts panel ----
truth_a = [0, 0, 0, 1, 1, 2, 2, 2, 2, 2, 3, 3, 3, 3, 3, 3, 3, 3, 4, 4, 5, 5, 5, 5, 5, 5, 5, 5, 5, 5, 5, 5, 5, 6, 6, 6, 6,
           0, 0, 0, 0, 0, 0, 0, 0, 0, 0, 0, 0, 0, 0, 0, 0, 0, 0, 0, 0, 0, 0, 0, 0, 1, 1, 1, 1, 1, 1, 1, 1, 1, 1, 1, 1, 1]
truth_b = [0, 0, 0, 0, 0, 0, 0, 0, 0, 0, 0, 0, 0, 0, 0, 0, 0, 0, 0, 0, 0, 0, 0, 0, 0, 0, 1, 1, 1, 1, 1, 1, 1, 3, 3, 3, 3,
           0, 0, 0, 0, 3, 4, 4, 4, 4, 4, 4, 4, 4, 4, 4, 4, 4, 4, 4, 4, 4, 5, 5, 5, 5, 5, 5, 7, 7, 7, 7, 7, 7, 7, 7, 8, 8]
pred_a = [14.5, 13.1, 13.8, 17.9, 17.6, 18.9, 17.3, 17.6, 17.1, 16.9, 18.4, 18.8, 19.1, 19.0, 18.3, 18.0, 18.0, 18.1, 20.2, 20.7,
          22.0, 21.6, 21.9, 22.1, 22.4, 22.1, 21.7, 21.0, 21.4, 21.2, 21.0, 21.0, 21.1, 20.8, 20.8, 21.0, 20.8,
          19.7, 20.5, 20.0, 19.1, 17.8, 16.5, 15.1, 14.9, 14.5, 13.8, 13.5, 12.9, 12.2, 11.4, 11.0, 10.5, 9.9, 9.5, 9.2, 8.8,
          8.3, 7.5, 6.9, 6.5, 7.0, 6.6, 6.1, 5.5, 5.0, 4.5, 3.9, 3.3, 2.8, 2.3, 1.6, 0.9, 0.0]
pred_a_hi = [21.0, 19.5, 20.5, 23.5, 24.5, 26.5, 25.1, 24.4, 24.0, 23.7, 25.0, 26.0, 26.3, 26.2, 25.4, 24.5, 24.4, 24.7, 27.7, 28.0,
             29.8, 29.0, 29.3, 29.4, 29.8, 29.1, 28.2, 27.7, 27.5, 27.4, 27.1, 27.1, 27.0, 26.4, 26.7, 26.7, 26.3,
             24.5, 25.2, 24.5, 23.4, 21.9, 20.5, 19.2, 18.9, 18.4, 17.7, 17.1, 16.2, 15.6, 14.9, 14.4, 13.8, 13.0, 12.6, 12.1, 11.7,
             11.1, 10.5, 9.6, 8.9, 9.1, 8.5, 7.8, 7.2, 6.5, 5.9, 5.2, 4.4, 3.7, 2.9, 2.0, 1.0, 0.0]
pred_a_lo = [7.5, 7.0, 7.4, 10.1, 10.5, 11.1, 10.5, 10.6, 10.3, 10.1, 11.2, 11.7, 11.7, 11.8, 11.4, 11.3, 11.3, 11.3, 12.8, 13.3,
             14.2, 14.1, 14.5, 14.9, 14.9, 14.9, 14.9, 14.0, 15.0, 15.0, 14.8, 14.9, 15.0, 15.1, 14.9, 15.2, 15.3,
             15.0, 15.6, 15.0, 14.3, 13.3, 12.0, 11.0, 10.9, 10.5, 9.9, 9.6, 8.9, 8.3, 7.8, 7.6, 7.2, 6.7, 6.2, 6.2, 5.9,
             5.4, 4.8, 4.4, 3.9, 4.7, 4.3, 3.8, 3.4, 3.0, 2.6, 2.2, 1.8, 1.4, 1.0, 0.6, 0.25, 0.0]
pred_b = [15.2, 14.7, 15.0, 12.2, 11.8, 11.1, 11.5, 10.6, 11.1, 11.1, 10.8, 10.7, 10.3, 10.3, 10.4, 10.5, 10.4, 10.0, 9.6, 9.5,
          8.9, 8.5, 8.3, 8.2, 8.1, 7.9, 8.8, 8.6, 8.7, 8.7, 8.3, 8.2, 8.1, 8.9, 8.9, 8.8, 8.8,
          11.7, 8.3, 8.1, 8.0, 12.4, 14.3, 17.2, 16.6, 16.3, 15.8, 15.6, 15.0, 14.3, 14.2, 13.8, 13.4, 12.9, 12.6, 11.3, 11.3,
          10.8, 11.8, 11.3, 10.9, 10.0, 9.9, 9.3, 10.9, 10.5, 9.8, 9.2, 8.9, 8.5, 8.0, 7.5, 8.0, 0.0]
pred_b_hi = [21.5, 18.9, 21.3, 18.5, 17.1, 16.3, 16.8, 15.3, 16.2, 16.3, 16.0, 15.7, 15.1, 15.2, 15.4, 15.1, 15.2, 14.8, 14.3, 14.0,
             13.2, 12.4, 12.4, 12.0, 11.9, 11.3, 12.5, 12.4, 12.3, 12.1, 11.7, 11.5, 11.5, 12.2, 12.3, 12.0, 12.1,
             15.4, 11.3, 11.0, 10.8, 14.9, 17.1, 21.0, 20.5, 19.7, 19.4, 18.9, 18.2, 17.4, 17.3, 16.8, 16.3, 15.7, 15.5, 14.0, 13.7,
             13.2, 14.2, 13.5, 12.9, 12.0, 11.8, 11.2, 12.7, 12.1, 11.5, 10.6, 10.2, 9.8, 9.1, 8.3, 8.0, 0.0]
pred_b_lo = [7.7, 8.2, 8.6, 6.3, 6.1, 5.7, 6.2, 5.6, 6.0, 5.9, 5.5, 5.7, 5.3, 5.2, 5.3, 5.6, 5.4, 5.4, 4.9, 5.0,
             4.7, 4.6, 4.5, 4.1, 4.1, 4.1, 5.0, 4.7, 5.0, 5.0, 4.7, 4.7, 4.6, 5.5, 5.4, 5.3, 5.4,
             8.9, 5.2, 5.0, 5.0, 8.5, 10.6, 13.4, 12.9, 12.6, 12.2, 11.9, 11.3, 11.0, 10.8, 10.6, 10.5, 9.9, 9.6, 8.6, 8.9,
             8.3, 9.0, 8.9, 8.6, 7.9, 7.6, 7.3, 8.9, 8.7, 8.3, 8.0, 7.8, 7.6, 7.4, 7.1, 8.0, 0.0]

A_UP = [a_u45, a_u75, a_u105, a_u135, a_u165, a_u195, a_u225, a_u255, a_u285]
A_LO = [a_u45_lo, a_u75_lo, a_u105_lo, a_u135_lo, a_u165_lo, a_u195_lo, a_u225_lo, a_u255_lo, a_u285_lo]
B_UP = [b_u45, b_u75, b_u105, b_u135, b_u165, b_u195, b_u225, b_u255, b_u285]
B_LO = [b_u45_lo, b_u75_lo, b_u105_lo, b_u135_lo, b_u165_lo, b_u195_lo, b_u225_lo, b_u255_lo, b_u285_lo]

for grp in (A_UP, A_LO, B_UP, B_LO):
    for i, s in enumerate(grp):
        assert len(s) == len(TIME), (i, len(s))
for s in (truth_a, truth_b, pred_a, pred_a_hi, pred_a_lo, pred_b, pred_b_hi, pred_b_lo):
    assert len(s) == len(TIME), len(s)

# ---------------- geometry helpers ----------------
W, H = 2100, 1500
ML, MR, MT, MB = 91, 23, 52, 78
PW = W - ML - MR
PH = H - MT - MB


def px_x(p):
    return (p - ML) / PW


def px_y(p):
    return (H - MB - p) / PH


def rgba(h, a):
    h = h.lstrip('#')
    return f"rgba({int(h[0:2], 16)},{int(h[2:4], 16)},{int(h[4:6], 16)},{a})"


FONT = "DejaVu Sans"
# legend column of each threshold (matplotlib ncol=4 column-major layout)
COL_OF = [0, 0, 0, 1, 1, 2, 2, 3, 3]

fig = go.Figure()


def add_prob_panel(ups, los, xa, ya, legend_names):
    for i in range(len(THRESHOLDS)):
        c = COLORS[i]
        lg = legend_names[COL_OF[i]]
        fig.add_trace(go.Scatter(
            x=TIME, y=ups[i], mode='lines', name=THRESHOLDS[i],
            line=dict(color=rgba(c, 0.9), width=2.1),
            xaxis=xa, yaxis=ya, legend=lg, hoverinfo='skip'))
        fig.add_trace(go.Scatter(
            x=TIME, y=los[i], mode='lines', showlegend=False,
            line=dict(color=rgba(c, 0.65), width=1.3, dash='2px,2.5px'),
            fill='tonexty', fillcolor=rgba(c, 0.1), legend=lg,
            xaxis=xa, yaxis=ya, hoverinfo='skip'))


add_prob_panel(A_UP, A_LO, 'x', 'y', ['legend', 'legend2', 'legend3', 'legend4'])
add_prob_panel(B_UP, B_LO, 'x2', 'y2', ['legend5', 'legend6', 'legend7', 'legend8'])

# counts panel: bands
for lo, hi, col in ((pred_a_lo, pred_a_hi, '#ff0000'), (pred_b_lo, pred_b_hi, '#0000ff')):
    fig.add_trace(go.Scatter(x=TIME, y=lo, mode='lines', showlegend=False, legend='legend9',
                             line=dict(color=rgba(col, 0.15), width=1), xaxis='x3', yaxis='y3', hoverinfo='skip'))
    fig.add_trace(go.Scatter(x=TIME, y=hi, mode='lines', showlegend=False, fill='tonexty', legend='legend9',
                             fillcolor=rgba(col, 0.14),
                             line=dict(color=rgba(col, 0.15), width=1), xaxis='x3', yaxis='y3', hoverinfo='skip'))

fig.add_trace(go.Scatter(x=TIME, y=truth_a, mode='lines', name=f"Truth {FIGHTER_A}: 1",
                         line=dict(color='rgba(255,0,0,0.72)', width=3), xaxis='x3', yaxis='y3',
                         legend='legend9', hoverinfo='skip'))
fig.add_trace(go.Scatter(x=TIME, y=truth_b, mode='lines', name=f"Truth {FIGHTER_B}: 8",
                         line=dict(color='rgba(0,0,255,0.72)', width=3), xaxis='x3', yaxis='y3',
                         legend='legend9', hoverinfo='skip'))
fig.add_trace(go.Scatter(x=TIME, y=pred_a, mode='lines', name=f"Predicted {FIGHTER_A}: 19.7",
                         line=dict(color='rgba(255,0,0,0.6)', width=3, dash='3px,4.5px'), xaxis='x3', yaxis='y3',
                         legend='legend9', hoverinfo='skip'))
fig.add_trace(go.Scatter(x=TIME, y=pred_b, mode='lines', name=f"Predicted {FIGHTER_B}: 11.7",
                         line=dict(color='rgba(0,0,255,0.6)', width=3, dash='3px,4.5px'), xaxis='x3', yaxis='y3',
                         legend='legend9', hoverinfo='skip'))

# ---------------- axes ----------------
DOM1 = [px_y(518.3), 1.0]
DOM2 = [px_y(1046), px_y(580)]
DOM3 = [0.0, px_y(1106)]

xcommon = dict(range=[-18, 378], showgrid=False, zeroline=False, showline=True, mirror=True,
               linecolor='#222222', linewidth=1.6, ticks='outside', ticklen=6, tickwidth=1.2,
               tickcolor='#222222', tickvals=[0, 50, 100, 150, 200, 250, 300, 350],
               tickfont=dict(family=FONT, size=14.5, color='black'))
prob_ticks = [round(0.05 * k, 2) for k in range(24)]
ycommon = dict(range=[0, 1.15], showgrid=True, gridcolor='#e3e3e3', gridwidth=1, zeroline=False,
               showline=True, mirror=True, linecolor='#222222', linewidth=1.6, ticks='outside',
               ticklen=6, tickwidth=1.2, tickcolor='#222222', tickvals=prob_ticks,
               ticktext=[f"{v:.2f}" for v in prob_ticks],
               tickfont=dict(family=FONT, size=14.5, color='black'))

fig.update_layout(
    width=W, height=H,
    margin=dict(l=ML, r=MR, t=MT, b=MB),
    paper_bgcolor='white', plot_bgcolor='white',
    font=dict(family=FONT, size=14.5, color='black'),
    xaxis=dict(xcommon, domain=[0, 1], anchor='y', showticklabels=False),
    yaxis=dict(ycommon, domain=DOM1, anchor='x'),
    xaxis2=dict(xcommon, domain=[0, 1], anchor='y2', matches='x', showticklabels=False),
    yaxis2=dict(ycommon, domain=DOM2, anchor='x2'),
    xaxis3=dict(xcommon, domain=[0, 1], anchor='y3', matches='x', showticklabels=True),
    yaxis3=dict(ycommon, domain=DOM3, anchor='x3', range=[-1.5, 31.5],
                tickvals=[0, 5, 10, 15, 20, 25, 30], ticktext=['0', '5', '10', '15', '20', '25', '30']),
    showlegend=True,
)

# column legends for the two probability panels
col_x = [px_x(1577.7 - 5), px_x(1704.9 - 5), px_x(1833.5 - 5), px_x(1962 - 5)]
leg_font = dict(family=FONT, size=12.5, color='black')
for k, name in enumerate(['legend', 'legend2', 'legend3', 'legend4']):
    fig.update_layout({name: dict(x=col_x[k], y=px_y(53), xanchor='left', yanchor='top',
                                  bgcolor='rgba(0,0,0,0)', borderwidth=0, font=leg_font,
                                  tracegroupgap=0, itemwidth=30, orientation='v', traceorder='normal')})
for k, name in enumerate(['legend5', 'legend6', 'legend7', 'legend8']):
    fig.update_layout({name: dict(x=col_x[k], y=px_y(581), xanchor='left', yanchor='top',
                                  bgcolor='rgba(0,0,0,0)', borderwidth=0, font=leg_font,
                                  tracegroupgap=0, itemwidth=30, orientation='v', traceorder='normal')})
fig.update_layout(legend9=dict(x=px_x(100), y=px_y(1114), xanchor='left', yanchor='top',
                               bgcolor='rgba(255,255,255,0.8)', bordercolor='#cccccc', borderwidth=1.5,
                               font=dict(family=FONT, size=14.5, color='black'), tracegroupgap=0,
                               itemwidth=30, orientation='v', traceorder='normal'))

shapes = []
# legend frames for the probability panels
for top, bot in ((58.3, 118.8), (586, 647)):
    shapes.append(dict(type='rect', xref='paper', yref='paper', x0=px_x(1573), x1=px_x(2071),
                       y0=px_y(bot), y1=px_y(top), fillcolor='rgba(255,255,255,0.8)',
                       line=dict(color='#cccccc', width=1.5), layer='above'))
# round boundary lines
for xa, ya in (('x', 'y'), ('x2', 'y2'), ('x3', 'y3')):
    for t in ROUND_MARKS:
        shapes.append(dict(type='line', xref=xa, yref=f'{ya} domain', x0=t, x1=t, y0=0, y1=1,
                           line=dict(color='rgba(60,60,60,0.7)', width=1, dash='1px,2px'), layer='above'))
fig.update_layout(shapes=shapes)

ann = []
ann.append(dict(text=FIGHTER_A + TITLE_SUFFIX, xref='paper', yref='paper', x=0.5, y=px_y(32.5),
                xanchor='center', yanchor='middle', showarrow=False, font=dict(family=FONT, size=21)))
ann.append(dict(text=FIGHTER_B + TITLE_SUFFIX, xref='paper', yref='paper', x=0.5, y=px_y(560),
                xanchor='center', yanchor='middle', showarrow=False, font=dict(family=FONT, size=21)))
ann.append(dict(text='Prob', xref='paper', yref='paper', x=px_x(28), y=px_y(285), textangle=-90,
                xanchor='center', yanchor='middle', showarrow=False, font=dict(family=FONT, size=14.5)))
ann.append(dict(text='Prob', xref='paper', yref='paper', x=px_x(28), y=px_y(813), textangle=-90,
                xanchor='center', yanchor='middle', showarrow=False, font=dict(family=FONT, size=14.5)))
ann.append(dict(text='Count', xref='paper', yref='paper', x=px_x(40), y=px_y(1264), textangle=-90,
                xanchor='center', yanchor='middle', showarrow=False, font=dict(family=FONT, size=15.5)))
ann.append(dict(text='Fight time (seconds)', xref='paper', yref='paper', x=0.5, y=px_y(1464),
                xanchor='center', yanchor='middle', showarrow=False, font=dict(family=FONT, size=21)))
for xa, ya, yv in (('x', 'y', 1.095), ('x2', 'y2', 1.095)):
    for t, nm in zip(ROUND_MARKS, ROUND_NAMES):
        ann.append(dict(text=nm, xref=xa, yref=ya, x=t + 2.0, y=yv, xanchor='left', yanchor='middle',
                        showarrow=False, font=dict(family=FONT, size=15, color='rgba(0,0,0,0.6)')))
ann.append(dict(text=ROUND_NAMES[0], xref='x3', yref='y3', x=ROUND_MARKS[0] + 2.0, y=29.65, xanchor='left',
                yanchor='middle', showarrow=False, font=dict(family=FONT, size=15, color='rgba(0,0,0,0.12)')))
ann.append(dict(text=ROUND_NAMES[1], xref='x3', yref='y3', x=ROUND_MARKS[1] + 2.0, y=29.65, xanchor='left',
                yanchor='middle', showarrow=False, font=dict(family=FONT, size=15, color='rgba(0,0,0,0.6)')))
fig.update_layout(annotations=ann)

fig.write_html("out.html")
